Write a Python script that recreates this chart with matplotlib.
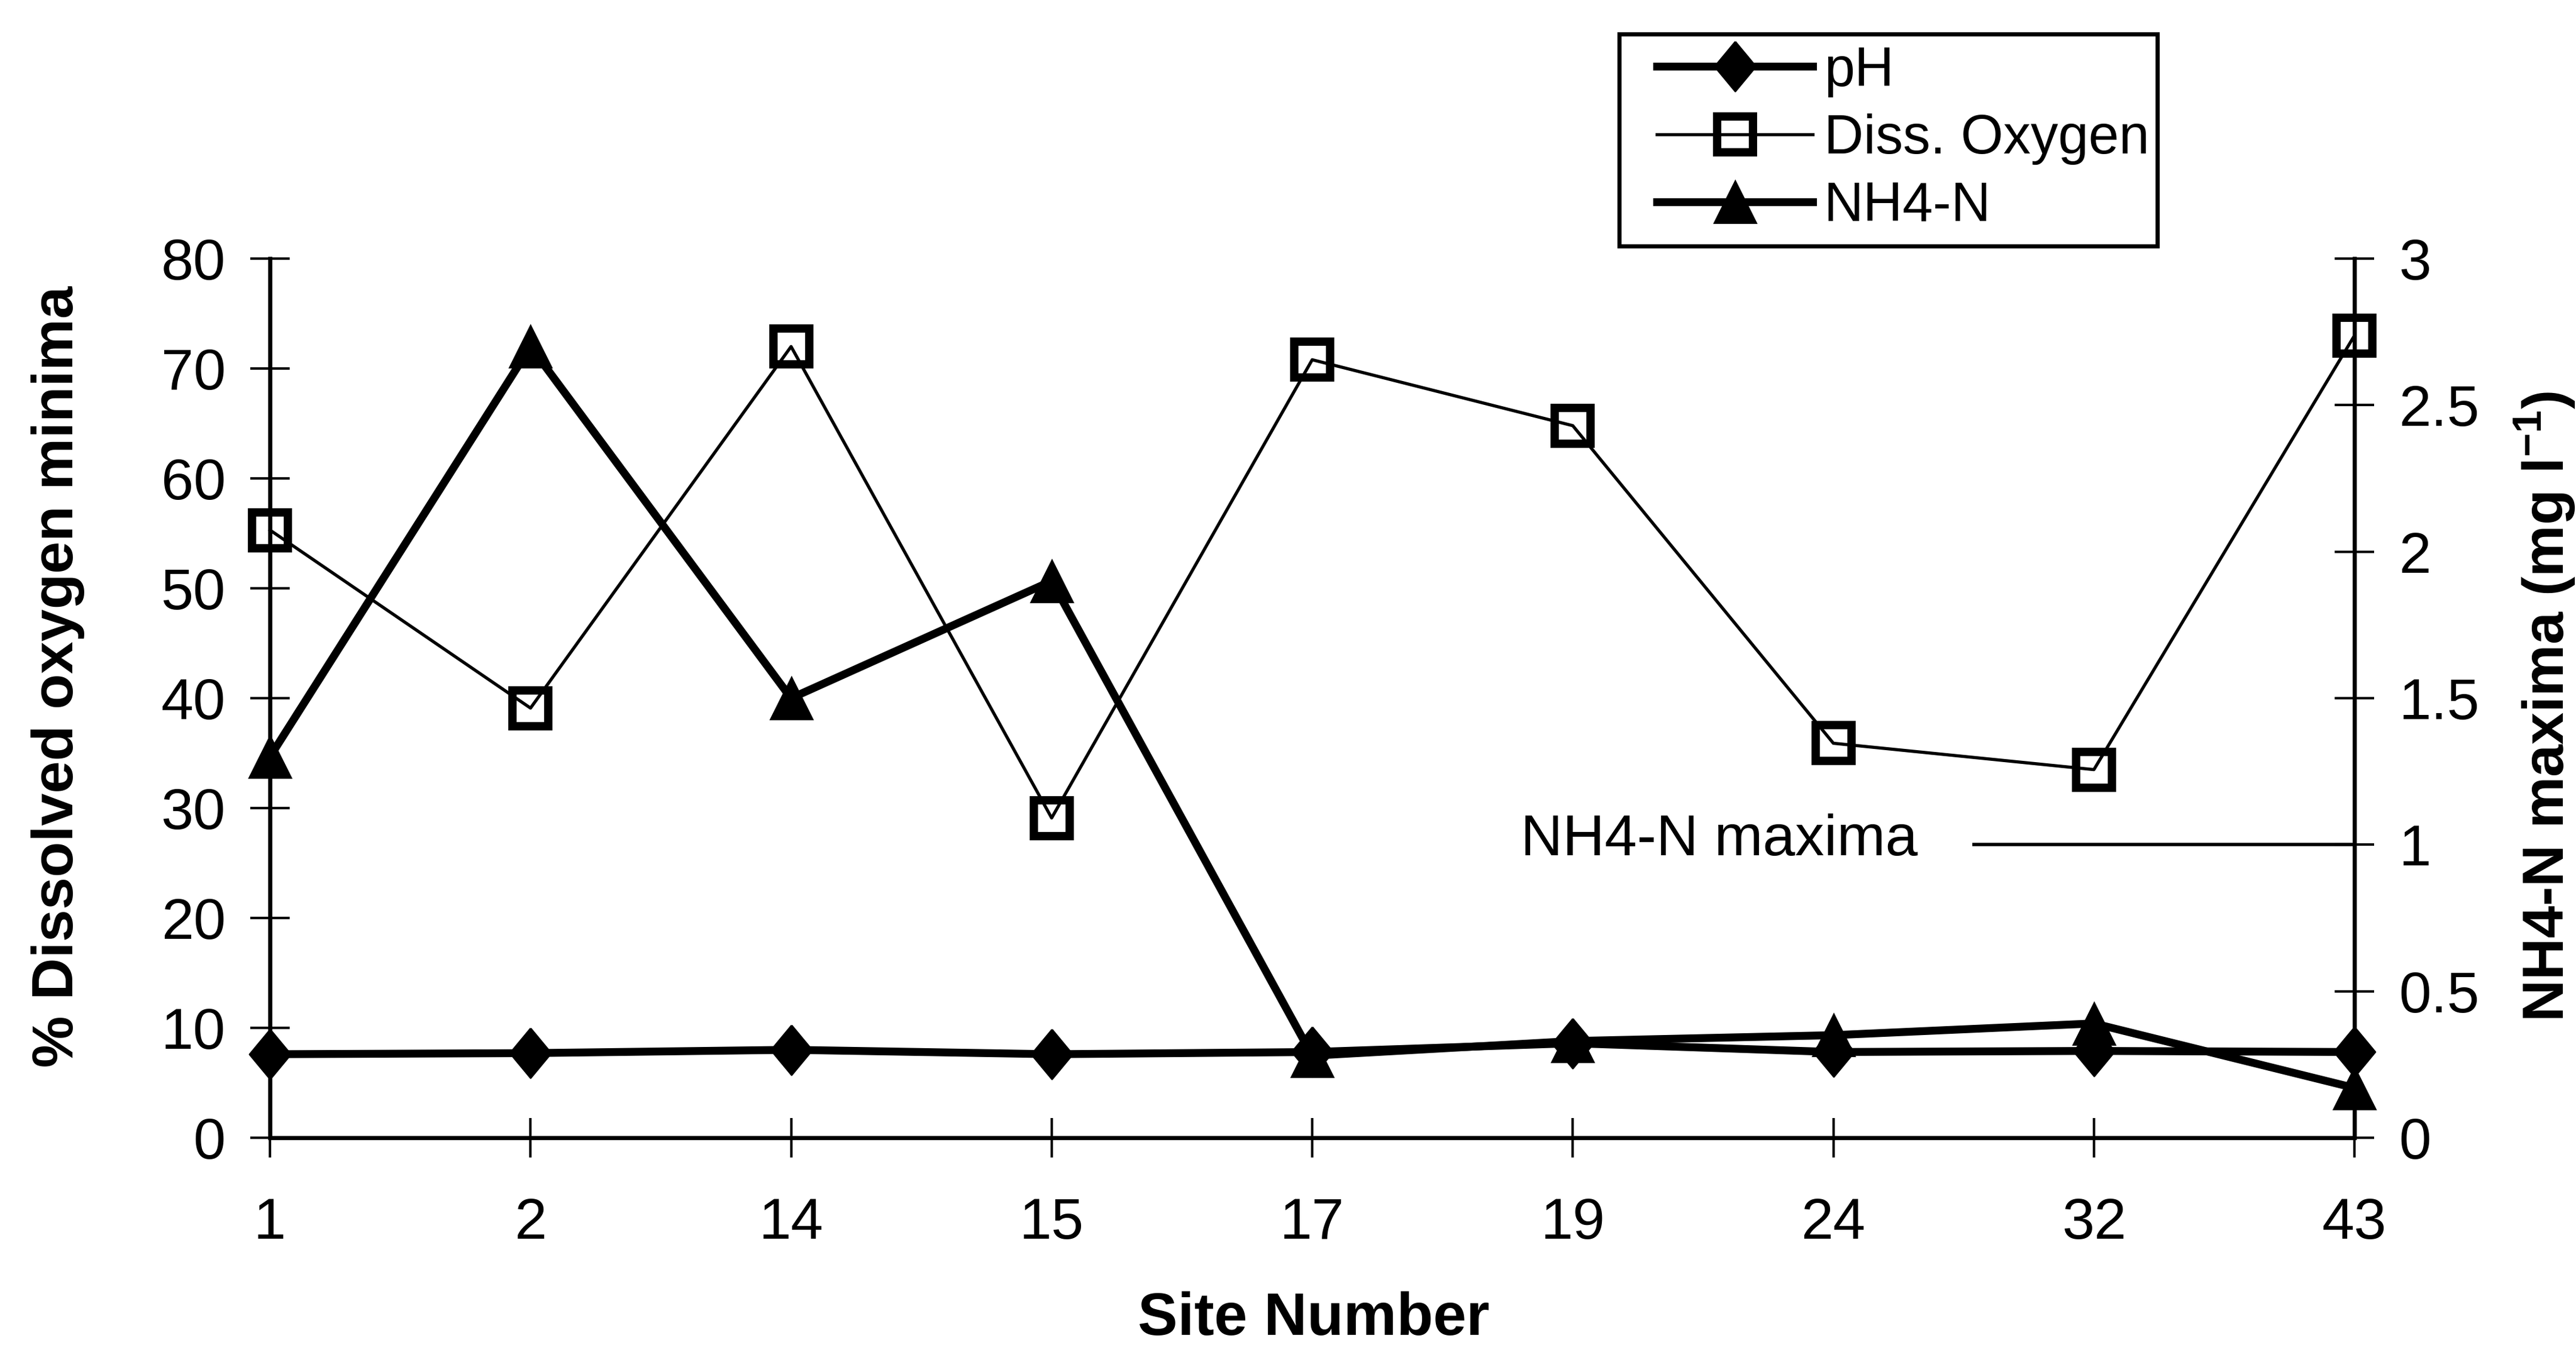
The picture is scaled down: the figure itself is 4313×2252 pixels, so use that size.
import matplotlib
matplotlib.use("Agg")
import matplotlib.pyplot as plt
from matplotlib.patches import Rectangle

plt.rcParams['font.family'] = ['Liberation Sans', 'DejaVu Sans']
plt.rcParams['mathtext.fontset'] = 'custom'
plt.rcParams['mathtext.rm'] = 'Liberation Sans'
plt.rcParams['mathtext.bf'] = 'Liberation Sans:bold'

# site data
sites = ['1', '2', '14', '15', '17', '19', '24', '32', '43']
ph = [7.6, 7.7, 8.0, 7.6, 7.8, 8.6, 7.8, 7.9, 7.8]
diss_oxygen = [55.3, 39.1, 72.0, 29.1, 70.8, 64.8, 35.9, 33.5, 73.0]
nh4_n = [1.30, 2.70, 1.50, 1.90, 0.28, 0.33, 0.35, 0.39, 0.17]
nh4_limit = 1.0

left_ticks = list(range(0, 81, 10))
right_ticks = [0, 0.5, 1, 1.5, 2, 2.5, 3]
right_labels = ['0', '0.5', '1', '1.5', '2', '2.5', '3']

x = list(range(len(sites)))

fig = plt.figure(figsize=(43.13, 22.52), dpi=100)
ax = fig.add_axes([0.1048, 0.1541, 0.8092, 0.6536])
ax2 = ax.twinx()

diamond = [(0, 1), (0.83, 0), (0, -1), (-0.83, 0), (0, 1)]

l_ph, = ax.plot(x, ph, color='black', lw=9.5, marker=diamond, ms=60,
                mfc='black', mec='black', mew=2, clip_on=False, zorder=3)
l_do, = ax.plot(x, diss_oxygen, color='black', lw=3.8, marker='s', ms=43,
                mfc='none', mec='black', mew=10, clip_on=False, zorder=3)
l_nh, = ax2.plot(x, nh4_n, color='black', lw=9.5, marker='^', ms=50,
                 mfc='black', mec='black', mew=2, clip_on=False, zorder=3)

# NH4-N maxima guide line on the right axis
ax2.axhline(nh4_limit, xmin=0.8175, xmax=1.0, color='black', lw=4)
ax2.annotate('NH4-N maxima', xy=(4.80, nh4_limit), xytext=(0, -13),
             textcoords='offset points', fontsize=70, va='baseline', ha='left')

ax.set_xlim(0, len(sites) - 1)
ax.set_ylim(0, 80)
ax2.set_ylim(0, 3)

ax.set_xticks(x)
ax.set_xticklabels(sites)
ax.set_yticks(left_ticks)
ax2.set_yticks(right_ticks)
ax2.set_yticklabels(right_labels)

for a in (ax, ax2):
    a.spines['top'].set_visible(False)
    for s in ('left', 'right', 'bottom'):
        a.spines[s].set_linewidth(5)
    a.tick_params(direction='inout', length=47, width=3, labelsize=70)
ax.tick_params(axis='y', pad=30)
ax.tick_params(axis='x', pad=48)
ax2.tick_params(axis='y', pad=30)

fig.text(0.0225, 0.497, '% Dissolved oxygen minima', rotation=90,
         fontsize=70, fontweight='bold', ha='center', va='center')
fig.text(0.988, 0.475, r'NH4-N maxima (mg l$^{\mathbf{-1}}$)', rotation=90,
         fontsize=70, fontweight='bold', ha='center', va='center')
fig.text(0.510, 0.019, 'Site Number', fontsize=72, fontweight='bold',
         ha='center', va='center')

leg = fig.legend([l_ph, l_do, l_nh], ['pH', 'Diss. Oxygen', 'NH4-N'],
                 loc='upper left', bbox_to_anchor=(0.6432, 0.966),
                 frameon=False, fontsize=66, borderpad=0, borderaxespad=0,
                 handlelength=2.85, handletextpad=0.2, labelspacing=0.3)
fig.patches.append(Rectangle((0.6286, 0.817), 0.2089, 0.1577,
                             transform=fig.transFigure, fill=False,
                             lw=5, edgecolor='black'))

fig.savefig('out.png', dpi=100)
